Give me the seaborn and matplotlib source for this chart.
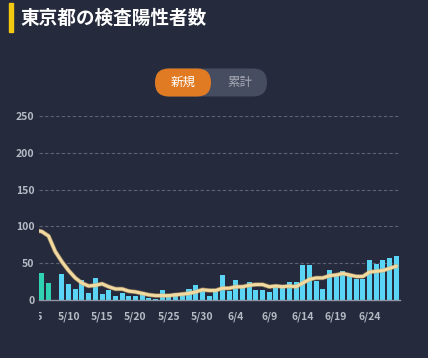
import numpy as np
import pandas as pd
import matplotlib
matplotlib.use("Agg")
import matplotlib.pyplot as plt
import seaborn as sns
from matplotlib.patches import FancyBboxPatch, Rectangle
from matplotlib.transforms import Bbox, TransformedBbox

# ---- data ----
dates = (["5/%d" % d for d in range(5, 32)] + ["6/%d" % d for d in range(1, 29)])
counts = [np.nan, 37, 23, 0, 36, 22, 15, 27, 10, 30, 8, 14, 5, 10, 5, 5, 11, 3, 2, 14,
          7, 10, 10, 15, 21, 14, 5,
          13, 34, 12, 27, 17, 25, 14, 13, 11, 18, 21, 25, 24, 47, 48, 26, 15, 41, 34,
          39, 34, 29, 28, 55, 49, 54, 57, 60]
avg7 = [95, 93, 87, 66, 52, 40, 30, 23, 19, 20, 22, 18, 15, 15, 12, 11, 9, 7, 6, 6,
        6, 7, 8, 9, 11, 14, 13,
        13, 16, 16, 18, 18, 20, 21, 21, 18, 19, 18, 19, 18, 23, 28, 30, 30, 33, 34,
        36, 34, 32, 32, 38, 39, 40, 43, 46]
groups = ["old"] * 3 + ["new"] * (len(dates) - 3)
yticks = [0, 50, 100, 150, 200, 250]
title = "東京都の検査陽性者数"
btn_on, btn_off = "新規", "累計"

BG = "#252a3c"
CYAN = "#5bd5f5"
TEAL = "#2fd3b3"
LINE = "#f1d9a0"
TICK = "#b6bac5"

df = pd.DataFrame({"date": dates, "count": counts, "avg": avg7,
                   "group": groups, "pos": np.arange(len(dates))})
bars = df.dropna(subset=["count"])

sns.set_theme(style="dark")
plt.rcParams["font.family"] = ["Noto Sans CJK JP", "DejaVu Sans"]

fig = plt.figure(figsize=(4.28, 3.58), dpi=100, facecolor=BG)
ax = fig.add_axes([38.5 / 428, 58 / 358, (399.7 - 38.5) / 428, 184 / 358])
ax.set_facecolor(BG)

sns.barplot(data=bars, x="date", y="count", hue="group", order=dates,
            palette={"old": TEAL, "new": CYAN}, dodge=False, legend=False,
            width=0.75, saturation=1, linewidth=0, edgecolor="none",
            ax=ax, zorder=2)
sns.lineplot(data=df, x="pos", y="avg", color="#cfae70", linewidth=3.2, ax=ax,
             zorder=3, alpha=0.6)
sns.lineplot(data=df, x="pos", y="avg", color=LINE, linewidth=2.2, ax=ax, zorder=4)

ax.set_xlim(0.5, len(dates) - 0.5)
ax.set_ylim(0, 250)
ax.set_yticks(yticks)
ax.set_yticklabels([str(v) for v in yticks])
tick_pos = list(range(5, len(dates), 5))
ax.set_xticks(tick_pos)
ax.set_xticklabels([dates[i] for i in tick_pos])
ax.tick_params(axis="both", length=0, colors=TICK, labelsize=7.5)
ax.tick_params(axis="x", pad=8)
ax.tick_params(axis="y", pad=3)
for lab in ax.get_xticklabels() + ax.get_yticklabels():
    lab.set_fontweight("bold")
ax.set_xlabel("")
ax.set_ylabel("")
ax.grid(False)
for v in yticks[1:]:
    ax.axhline(v, color="#5d6275", linewidth=0.8, linestyle=(0, (3, 2)), zorder=1)
for s in ["top", "right", "left"]:
    ax.spines[s].set_visible(False)
ax.spines["bottom"].set_color("#8f94a3")
ax.spines["bottom"].set_linewidth(1)

# clipped first label (5/5) at the left edge
t = ax.text(0, -11 / 184, dates[0], transform=ax.get_xaxis_transform(), ha="center",
            va="top", color=TICK, fontsize=7.5, fontweight="bold")
clip = TransformedBbox(Bbox.from_extents(38.5 / 428, 0, 1, 1), fig.transFigure)
t.set_clip_box(clip)
t.set_clip_on(True)

# overlay for title and toggle (pixel coords)
ov = fig.add_axes([0, 0, 1, 1], zorder=5)
ov.set_xlim(0, 428)
ov.set_ylim(358, 0)
ov.axis("off")
ov.patch.set_alpha(0)
ov.add_patch(Rectangle((9, 3), 4.5, 29, color="#f2c811"))
ov.text(20, 18, title, color="white", fontsize=13.4, fontweight="bold",
        va="center", ha="left")
ov.add_patch(FancyBboxPatch((155, 68.5), 112, 28,
                            boxstyle="round,pad=0,rounding_size=14",
                            facecolor="#474d60", edgecolor="none"))
ov.add_patch(FancyBboxPatch((155, 68.5), 56, 28,
                            boxstyle="round,pad=0,rounding_size=14",
                            facecolor="#e07b24", edgecolor="none"))
ov.text(183, 82.5, btn_on, color="white", fontsize=9, ha="center", va="center")
ov.text(239.5, 82.5, btn_off, color="#a5a9b3", fontsize=9, ha="center", va="center")

fig.savefig("out.png", dpi=100, facecolor=BG)
